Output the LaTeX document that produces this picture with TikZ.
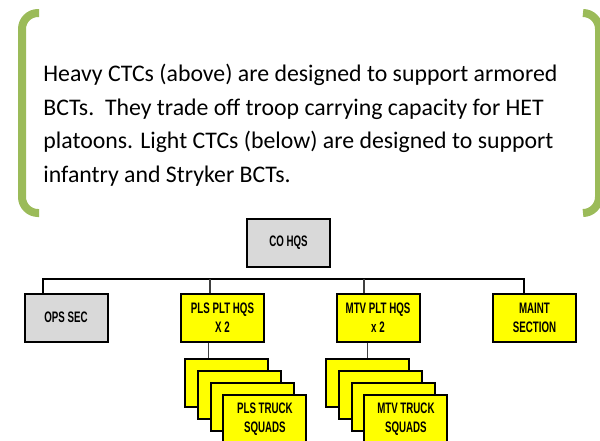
\documentclass[tikz,border=0pt]{standalone}
\usepackage{fontspec}
\usepackage{tikz}
\usetikzlibrary{calc,positioning}
\newfontfamily\notefont{Carlito}
\newfontfamily\orgfont[FakeStretch=0.64]{Liberation Sans}
\definecolor{bracketgreen}{HTML}{9BBB59}
\definecolor{boxgray}{HTML}{D9D9D9}
\definecolor{boxyellow}{HTML}{FFFF00}

\begin{document}
\begin{tikzpicture}[
  x=0.5pt,y=-0.5pt,
  bracket/.style={draw=bracketgreen,line width=4pt,rounded corners=8pt},
  note/.style={anchor=north west,inner sep=0pt,align=left,font=\notefont\fontsize{11.9}{16.75}\selectfont},
  unit/.style={draw,line width=1pt,minimum width=41.5pt,minimum height=24pt,inner sep=0pt,align=center,font=\orgfont\bfseries\fontsize{7.6}{9.5}\selectfont},
  hq/.style={unit,fill=boxgray},
  sect/.style={unit,fill=boxyellow},
  bus/.style={line width=1.4pt},
  link/.style={line width=0.6pt,draw=black!75}]
\clip (0,0) rectangle (600,440);
% side brackets round the note
\draw[bracket] (39,13) -- (22,13) -- (22,213) -- (39,213);
\draw[bracket] (583,13) -- (599,13) -- (599,213) -- (583,213);
\node[note] (txt) at (43,64) {Heavy CTCs (above) are designed to support armored\\
BCTs.\ \ They trade off troop carrying capacity for HET\\
platoons. Light CTCs (below) are designed to support\\
infantry and Stryker BCTs.};
% company chart
\node[hq] (cohq) at (288.5,242.5) {CO HQS};
\node[hq] (ops) at (66,317.5) {OPS SEC};
\node[sect] (plshq) at (222.5,317.5) {PLS PLT HQS\\X 2};
\node[sect] (mtvhq) at (378,317.5) {MTV PLT HQS\\x 2};
\node[sect] (maint) at (534.5,317.5) {MAINT\\SECTION};
\foreach \i in {1,...,4} {
  \node[sect] (plssq\i) at ({226.5+(\i-1)*12.8},{383+(\i-1)*12}) {};
  \node[sect] (mtvsq\i) at ({367.5+(\i-1)*12.8},{383+(\i-1)*12}) {};
}
\node[font=\orgfont\bfseries\fontsize{7.6}{9.5}\selectfont,align=center] at (plssq4) {PLS TRUCK\\SQUADS};
\node[font=\orgfont\bfseries\fontsize{7.6}{9.5}\selectfont,align=center] at (mtvsq4) {MTV TRUCK\\SQUADS};
\coordinate (busL) at (43,279);
\coordinate (busR) at (524,279);
\coordinate (busP) at (210,279);
\coordinate (busM) at (364,279);
\draw[bus] (busL |- ops.north) -- (busL) -- (busR) -- (busR |- maint.north);
\draw[link] (busP) -- (busP |- plshq.north);
\draw[link] (busM) -- (busM |- mtvhq.north);
\draw[link] ([xshift=14.25pt]plshq.south west) -- ([xshift=14.25pt]plshq.south west |- plssq1.north);
\draw[link] ([xshift=16pt]mtvhq.south west) -- ([xshift=16pt]mtvhq.south west |- mtvsq1.north);
\end{tikzpicture}
\end{document}
